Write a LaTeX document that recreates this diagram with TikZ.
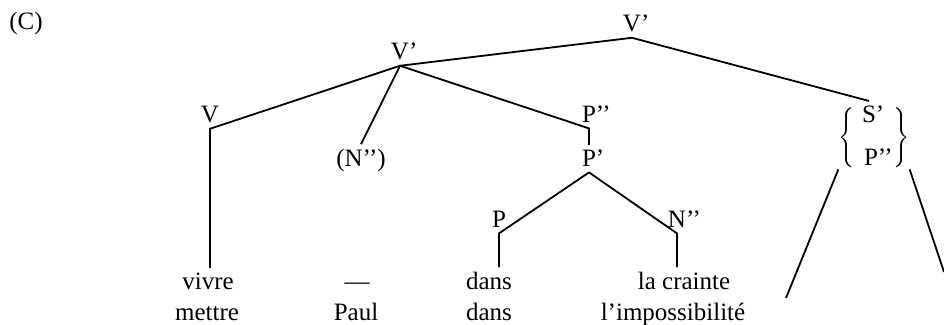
\documentclass[tikz,border=0pt]{standalone}
\usepackage{fontspec}
\setmainfont{Liberation Serif}
\usepackage{tikz}
\usetikzlibrary{calc}
\tikzset{
  cat/.style={anchor=base, inner sep=2.5pt, font=\fontsize{12.5}{15}\selectfont},
  word/.style={anchor=base, inner sep=2.5pt, font=\fontsize{12.5}{15}\selectfont},
  brace/.style={inner sep=0pt, font=\fontsize{12.5}{15}\selectfont},
  branch/.style={line width=0.9pt, color=black}
}

\begin{document}
\begin{tikzpicture}[x=0.5pt, y=-0.5pt]
  \useasboundingbox (0,0) rectangle (944,325);
  \node[word] (tag) at (26,30) {(C)};

  % Category labels
  \node[cat] (vtop) at (632,32) {V\rlap{’}};
  \node[cat] (vbar) at (400,60) {V\rlap{’}};
  \node[cat] (vv) at (210,123) {V};
  \node[cat] (nopt) at (361,167) {(N’’)};
  \node[cat] (pdbl) at (589,123) {P\rlap{’’}};
  \node[cat] (pbar) at (589,167) {P\rlap{’}};
  \node[cat] (pp) at (499,228) {P};
  \node[cat] (ndbl) at (677,228) {N\rlap{’’}};

  % Alternatives in braces
  \node[cat] (sbar) at (869,123) {S\rlap{’}};
  \node[cat] (palt) at (871,166) {P\rlap{’’}};
  \node[brace] (lbr) at (848,138) {$\left\{\vcenter{\hbox{\rule{0pt}{31pt}}}\right.$};
  \node[brace] (rbr) at (900,138) {$\left.\vcenter{\hbox{\rule{0pt}{31pt}}}\right\}$};

  % Words
  \node[word] (vivre) at (208,290) {vivre};
  \node[word] (mettre) at (207,321) {mettre};
  \node[word] (gap) at (357,290) {—};
  \node[word] (paul) at (356,321) {Paul};
  \node[word] (dansa) at (489,290) {dans};
  \node[word] (dansb) at (489,321) {dans};
  \node[word] (crainte) at (684,290) {la crainte};
  \node[word] (imposs) at (673,321) {l’impossibilité};

  % Open ends of the triangle
  \coordinate (legl) at (786,298);
  \coordinate (legr) at (944,272);

  % Branches
  \draw[branch] (vtop.south) -- (vbar.south) -- (vv.south) -- (vv.south |- vivre.north);
  \draw[branch] (vbar.south) -- (nopt.north);
  \draw[branch] (vbar.south) -- (pdbl.south) -- (pbar.north);
  \draw[branch] (pbar.south) -- (pp.south) -- (pp.south |- dansa.north);
  \draw[branch] (pbar.south) -- (ndbl.south) -- (ndbl.south |- crainte.north);
  \draw[branch] (vtop.south) -- (sbar.north);
  \draw[branch] (lbr.south west) -- (legl);
  \draw[branch] (rbr.south east) -- (legr);
\end{tikzpicture}
\end{document}
